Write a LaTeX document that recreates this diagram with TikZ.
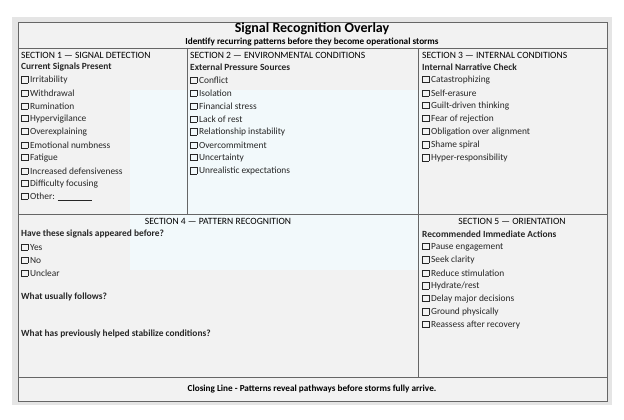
\documentclass[tikz,border=0pt]{standalone}
\usepackage{fontspec}
\setmainfont{Carlito}
\newcommand\cbx{{\setlength\fboxsep{0pt}\setlength\fboxrule{0.45pt}\fbox{\rule{0pt}{6pt}\hspace{6pt}}}\kern2pt}
\begin{document}
\begin{tikzpicture}[x=1pt,y=-1pt,
  txt/.style={anchor=west,inner sep=0pt,font=\fontsize{9.4}{11}\selectfont,text=black!85},
  hd/.style={txt,font=\fontsize{9.6}{11}\selectfont,text=black},
  bd/.style={txt,font=\fontsize{9.4}{11}\selectfont\bfseries},
  grid/.style={draw=black!60,line width=0.6pt}]
\useasboundingbox (0,0) rectangle (624,420);
\fill[white] (0,0) rectangle (624,420);
\fill[black!10] (12,17) rectangle (612,405);
\fill[black!5] (18,22) rectangle (607,401);
\fill[cyan!5, opacity=0.8] (130,90) rectangle (420,270);
\draw[grid] (18,22) rectangle (607,401);
\draw[grid] (18,48) -- (607,48);
\draw[grid] (18,214) -- (607,214);
\draw[grid] (18,377) -- (607,377);
\draw[grid] (187,48) -- (187,214);
\draw[grid] (418,48) -- (418,377);
\node[inner sep=0pt,font=\fontsize{14}{16}\selectfont\bfseries] (title) at (312,29) {Signal Recognition Overlay};
\node[inner sep=0pt,font=\fontsize{9.2}{11}\selectfont\bfseries] (sub) at (312,42) {Identify recurring patterns before they become operational storms};
% section 1
\node[hd] (s1) at (21,55) {SECTION 1 — SIGNAL DETECTION};
\node[bd] (s1b) at (21,67) {Current Signals Present};
\foreach \t [count=\i] in {Irritability,Withdrawal,Rumination,Hypervigilance,Overexplaining,Emotional numbness,Fatigue,Increased defensiveness,Difficulty focusing,Other: \underline{\hspace{34pt}}}
  \node[txt] (a\i) at (21,{67+13*\i}) {\cbx\t};
% section 2
\node[hd] (s2) at (190,55) {SECTION 2 — ENVIRONMENTAL CONDITIONS};
\node[bd] (s2b) at (190,67) {External Pressure Sources};
\foreach \t [count=\i] in {Conflict,Isolation,Financial stress,Lack of rest,Relationship instability,Overcommitment,Uncertainty,Unrealistic expectations}
  \node[txt] (b\i) at (190,{67+13*\i}) {\cbx\t};
% section 3
\node[hd] (s3) at (422,55) {SECTION 3 — INTERNAL CONDITIONS};
\node[bd] (s3b) at (422,67) {Internal Narrative Check};
\foreach \t [count=\i] in {Catastrophizing,Self-erasure,Guilt-driven thinking,Fear of rejection,Obligation over alignment,Shame spiral,Hyper-responsibility}
  \node[txt] (c\i) at (422,{67+13*\i}) {\cbx\t};
% section 4
\node[hd,anchor=center] (s4) at (218,221) {SECTION 4 — PATTERN RECOGNITION};
\node[bd] (s4b) at (21,234) {Have these signals appeared before?};
\foreach \t [count=\i] in {Yes,No,Unclear}
  \node[txt] (d\i) at (21,{234+13*\i}) {\cbx\t};
\node[bd] (q1) at (21,297) {What usually follows?};
\node[bd] (q2) at (21,334) {What has previously helped stabilize conditions?};
% section 5
\node[hd,anchor=center] (s5) at (512,221) {SECTION 5 — ORIENTATION};
\node[bd] (s5b) at (422,234) {Recommended Immediate Actions};
\foreach \t [count=\i] in {Pause engagement,Seek clarity,Reduce stimulation,Hydrate/rest,Delay major decisions,Ground physically,Reassess after recovery}
  \node[txt] (e\i) at (422,{234+13*\i}) {\cbx\t};
\node[inner sep=0pt,font=\fontsize{9.2}{11}\selectfont\bfseries] (close) at (312,389) {Closing Line - Patterns reveal pathways before storms fully arrive.};
\end{tikzpicture}
\end{document}
